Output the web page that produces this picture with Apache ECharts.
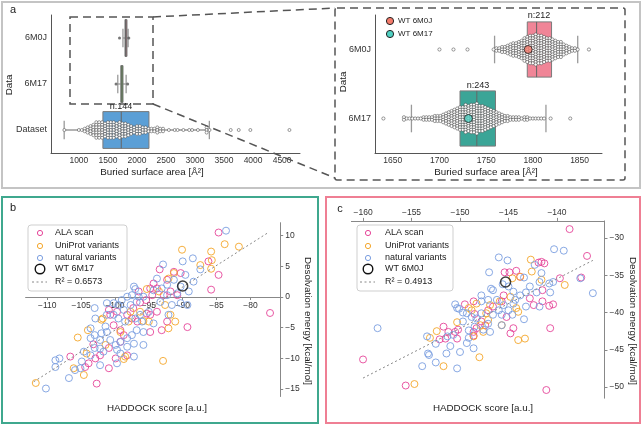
<!DOCTYPE html>
<html>
<head>
<meta charset="utf-8">
<script src="https://cdn.jsdelivr.net/npm/echarts@6/dist/echarts.min.js"></script>
<style>
html,body{margin:0;padding:0;background:#fff;}
#chart{width:642px;height:425px;}
</style>
</head>
<body>
<div id="chart"></div>
<script>
// ---------- panel a : buried surface area ----------
const boxCats = ['6M0J', '6M17', 'Dataset'];
// [q1, median, q3, whisker low, whisker high]
const boxStats = [
  [1794, 1804, 1820, 1759, 1848],
  [1722, 1740, 1760, 1670, 1814],
  [1414, 1730, 2207, 747, 3247]
];
const boxN = ['n:212', 'n:243', 'n:144'];
const wtValues = [1795, 1731];
const wtLabels = ['WT 6M0J', 'WT 6M17'];

// swarm points, read as bins (value) + how many dots stack in that bin
const sw6M0JBins = [1700, 1715, 1730, 1758, 1761, 1764, 1767, 1770, 1773, 1776, 1779, 1782, 1785, 1788, 1791, 1794, 1797, 1800, 1803, 1806, 1809, 1812, 1815, 1818, 1821, 1824, 1827, 1830, 1833, 1836, 1839, 1842, 1845, 1848, 1860];
const sw6M0JCounts = [1, 1, 1, 1, 2, 2, 3, 3, 4, 5, 6, 6, 7, 8, 10, 11, 12, 12, 13, 12, 12, 11, 10, 10, 9, 8, 7, 7, 5, 4, 3, 2, 2, 1, 1];
const sw6M17Bins = [1640, 1662, 1665, 1668, 1671, 1674, 1677, 1680, 1683, 1686, 1689, 1692, 1695, 1698, 1701, 1704, 1707, 1710, 1713, 1716, 1719, 1722, 1725, 1728, 1731, 1734, 1737, 1740, 1743, 1746, 1749, 1752, 1755, 1758, 1761, 1764, 1767, 1770, 1773, 1776, 1779, 1782, 1785, 1788, 1791, 1794, 1797, 1800, 1803, 1806, 1809, 1812, 1819, 1840];
const sw6M17Counts = [1, 2, 1, 1, 1, 1, 1, 1, 2, 2, 2, 2, 3, 3, 3, 4, 5, 6, 7, 8, 9, 10, 10, 12, 11, 12, 12, 13, 11, 11, 10, 9, 8, 7, 6, 5, 4, 3, 3, 2, 2, 2, 2, 1, 2, 2, 1, 1, 1, 1, 1, 1, 1, 1];
const swDataBins = [750, 1000, 1050, 1100, 1150, 1200, 1250, 1300, 1350, 1400, 1450, 1500, 1550, 1600, 1650, 1700, 1750, 1800, 1850, 1900, 1950, 2000, 2050, 2100, 2150, 2200, 2250, 2300, 2350, 2400, 2450, 2550, 2650, 2700, 2800, 2900, 2950, 3050, 3200, 3250, 3615, 3753, 3953, 4626];
const swDataCounts = [1, 1, 1, 2, 3, 4, 5, 7, 7, 7, 6, 7, 7, 7, 6, 7, 6, 6, 5, 4, 3, 4, 4, 3, 3, 2, 2, 2, 3, 2, 2, 1, 1, 1, 1, 1, 1, 1, 3, 1, 1, 1, 1, 1];
const leftOutliers = [[1700, 0], [1860, 0], [1640, 1], [1840, 1]];

const axTicksLeft = [1000, 1500, 2000, 2500, 3000, 3500, 4000, 4500];
const axTicksRight = [1650, 1700, 1750, 1800, 1850];

// ---------- panels b and c : HADDOCK vs desolvation ----------
const legendLabels = ['ALA scan', 'UniProt variants', 'natural variants'];
const bAla = [[-84.7,10.5],[-86.2,5.8],[-84.7,3.6],[-85.8,1.2],[-77.1,-2.6],[-89.3,-4.9],[-93.4,4.5],[-92.3,2.8],[-91.3,4.1],[-90.3,3.9],[-92.8,0.3],[-93.8,-2.4],[-95.3,-2.7],[-94.8,-2.9],[-92.3,-4.0],[-93.1,-5.4],[-94.8,-5.7],[-96.7,-4.0],[-97.5,-3.5],[-98.2,-2.9],[-99.7,-2.4],[-100.9,-2.1],[-100.7,-2.9],[-100.2,-4.6],[-98.7,-6.2],[-99.2,-7.3],[-100.9,-8.3],[-99.9,-10.0],[-100.9,-11.6],[-102.2,-9.5],[-102.9,-10.0],[-103.9,-10.8],[-104.4,-11.4],[-106.6,-9.7],[-102.7,-14.1],[-103.2,-7.7],[-98.2,-9.5],[-96.3,-0.9],[-95.4,-0.5],[-94.5,0.3],[-93.8,1.4],[-96.5,0.9],[-91.8,0.9],[-90.8,0.3],[-97.3,-1.8],[-99.2,-5.4],[-94.3,2.2],[-94.8,1.4]];
const bUni = [[-90.1,7.7],[-85.8,7.4],[-83.8,8.6],[-81.7,8.2],[-85.7,6.0],[-87.4,5.2],[-85.8,4.6],[-91.3,3.9],[-92.1,3.0],[-93.5,0.9],[-92.6,-1.3],[-91.8,-2.9],[-91.1,-4.0],[-92.1,-5.1],[-95.0,-4.0],[-95.8,-3.9],[-98.0,-4.0],[-97.7,-2.4],[-99.2,-5.7],[-98.5,-9.7],[-98.7,-10.1],[-101.8,-3.5],[-102.0,-3.7],[-104.0,-5.4],[-105.5,-6.6],[-104.2,-9.2],[-106.1,-11.6],[-104.6,-12.7],[-111.7,-14.0],[-92.9,-10.4],[-101.4,-7.8],[-96.3,-2.4],[-95.3,1.3]];
const bNat = [[-83.6,10.8],[-88.5,6.3],[-90.0,5.8],[-87.4,4.5],[-88.4,2.5],[-89.6,3.6],[-92.9,5.3],[-91.3,2.8],[-90.3,1.7],[-89.1,0.9],[-89.3,-1.3],[-91.6,-1.3],[-90.8,0.6],[-92.3,0.3],[-93.1,1.4],[-94.3,1.1],[-95.8,0.05],[-96.5,0.05],[-97.5,0.3],[-98.2,0.05],[-99.0,-0.5],[-99.5,-1.3],[-100.2,-1.0],[-101.2,-1.0],[-97.0,1.3],[-97.2,1.7],[-96.8,-0.8],[-97.7,-1.3],[-98.7,-2.1],[-96.3,-2.9],[-95.0,-2.4],[-94.3,-4.3],[-95.8,-5.7],[-96.8,-5.4],[-97.5,-6.2],[-98.2,-6.7],[-99.2,-7.3],[-99.9,-7.8],[-100.7,-7.0],[-101.2,-5.7],[-102.0,-5.9],[-102.2,-7.0],[-103.0,-8.3],[-102.2,-8.4],[-101.7,-8.9],[-99.7,-8.6],[-99.2,-9.2],[-98.2,-8.1],[-97.2,-7.6],[-95.8,-7.8],[-97.2,-9.7],[-99.7,-10.8],[-102.2,-11.1],[-103.0,-6.2],[-103.6,-5.1],[-102.9,-3.5],[-101.4,-4.8],[-104.6,-8.9],[-104.9,-10.5],[-105.9,-11.9],[-105.1,-11.6],[-106.8,-13.2],[-108.2,-10.0],[-108.8,-10.3],[-108.8,-11.4],[-110.2,-14.9],[-103.6,-9.5],[-103.0,-1.8],[-101.2,-2.9],[-103.6,-6.7],[-99.5,-3.5],[-98.5,-4.0],[-97.0,-3.5],[-100.2,-2.9],[-93.3,-0.8],[-93.8,3.0],[-92.3,2.0],[-92.1,-2.9],[-96.0,-4.0],[-90.3,-1.0]];
const bWT = [[-90.0, 1.8]];
const bFit = [[-112.0, -13.8], [-77.5, 10.4]];
const bTicksX = [-110, -105, -100, -95, -90, -85, -80];
const bTicksY = [-15, -10, -5, 0, 5, 10];

const cAla = [[-138.7,-28.8],[-136.9,-32.4],[-137.5,-35.3],[-139.7,-35.4],[-140.7,-42.1],[-141.1,-50.4],[-140.4,-38.9],[-140.8,-39.1],[-141.6,-33.2],[-141.3,-33.4],[-141.9,-33.3],[-141.5,-37.0],[-141.5,-38.5],[-142.4,-39.0],[-142.8,-38.1],[-143.8,-35.2],[-144.2,-34.4],[-144.9,-34.6],[-145.4,-34.6],[-145.5,-37.7],[-145.7,-38.5],[-146.6,-39.2],[-145.2,-40.6],[-144.8,-42.8],[-147.1,-39.7],[-147.8,-41.2],[-147.4,-41.7],[-148.3,-42.1],[-148.5,-40.2],[-149.5,-38.9],[-148.6,-42.6],[-148.6,-43.1],[-150.2,-42.3],[-150.5,-42.6],[-150.3,-43.5],[-151.7,-41.9],[-151.2,-42.6],[-151.5,-43.5],[-152.1,-43.6],[-148.6,-38.5],[-155.6,-49.8],[-160.0,-46.3],[-144.5,-42.1]];
const cUni = [[-142.7,-32.9],[-142.6,-34.5],[-141.6,-35.6],[-139.2,-36.3],[-143.8,-35.2],[-144.6,-35.4],[-144.8,-37.9],[-144.2,-39.4],[-144.0,-39.9],[-143.3,-43.5],[-144.0,-43.7],[-145.7,-41.7],[-147.3,-40.1],[-147.1,-41.0],[-147.6,-42.6],[-146.9,-39.0],[-148.3,-38.8],[-149.1,-39.4],[-148.8,-39.7],[-148.6,-43.2],[-148.0,-46.0],[-147.9,-41.7],[-150.3,-41.3],[-152.4,-42.5],[-153.1,-43.4],[-151.7,-47.2],[-154.7,-49.6],[-145.9,-38.5]];
const cNat = [[-140.3,-31.5],[-139.3,-31.7],[-137.6,-35.4],[-136.3,-37.4],[-140.4,-35.9],[-140.8,-36.1],[-140.7,-37.3],[-141.8,-35.9],[-141.6,-34.7],[-142.3,-33.6],[-143.4,-35.3],[-142.8,-36.5],[-143.2,-37.3],[-142.1,-37.3],[-141.8,-39.2],[-143.2,-39.2],[-143.8,-37.7],[-144.5,-37.2],[-145.0,-36.5],[-145.6,-36.2],[-145.1,-33.0],[-146.0,-32.6],[-147.0,-34.6],[-146.6,-37.0],[-146.2,-38.3],[-145.5,-39.0],[-145.0,-39.7],[-144.6,-40.3],[-143.4,-40.9],[-144.3,-38.3],[-145.7,-40.3],[-146.0,-39.7],[-146.6,-40.3],[-147.1,-38.3],[-147.8,-37.7],[-146.8,-36.8],[-147.8,-38.5],[-147.8,-40.1],[-148.3,-40.8],[-147.1,-41.5],[-146.9,-42.6],[-145.7,-41.7],[-147.6,-42.3],[-148.5,-41.9],[-148.8,-40.6],[-149.3,-40.1],[-149.7,-40.0],[-150.1,-39.5],[-150.3,-39.4],[-149.7,-41.2],[-149.1,-43.4],[-149.3,-44.1],[-148.6,-44.8],[-149.1,-42.4],[-150.7,-43.0],[-151.0,-44.5],[-150.0,-45.3],[-150.3,-47.5],[-151.4,-45.5],[-152.5,-44.2],[-153.4,-43.2],[-153.3,-45.5],[-153.2,-45.7],[-152.5,-46.7],[-153.9,-47.2],[-158.5,-42.1],[-151.3,-43.2],[-150.5,-38.9],[-144.5,-38.8]];
const cWT = [[-145.3, -35.9]];
const cFit = [[-160.0, -48.8], [-136.3, -33.0]];
const cTicksX = [-160, -155, -150, -145, -140];
const cTicksY = [-50, -45, -40, -35, -30];

const FONT = '"Liberation Sans", Arial, sans-serif';
const colAla = '#e6479a', colUni = '#f4a62a', colNat = '#7b9ee0';
const boxColorsRight = ['#f08597', '#3ba597'];
const boxColorsLeft = ['#8a6569', '#5c9148', '#5b9fd6'];
const wtColors = ['#f57b6b', '#4fd0c2'];

function minus(v) { return v < 0 ? '\u2212' + Math.abs(v) : String(v); }
function plain(v) { return String(v); }

function swarmPoints(bins, counts, cat) {
  const out = [];
  bins.forEach((v, i) => {
    const n = counts[i];
    for (let j = 0; j < n; j++) out.push([v, cat, j - (n - 1) / 2]);
  });
  return out;
}

function boxRender(colors) {
  return function (params, api) {
    const c = api.value(0);
    const pq1 = api.coord([api.value(1), c]);
    const pmd = api.coord([api.value(2), c]);
    const pq3 = api.coord([api.value(3), c]);
    const plo = api.coord([api.value(4), c]);
    const phi = api.coord([api.value(5), c]);
    const h = Math.abs(api.coord([api.value(1), c + 0.4])[1] - pq1[1]);
    const y = pq1[1];
    const w = Math.max(pq3[0] - pq1[0], 2);
    const wl = { stroke: '#9a9a9a', lineWidth: 1.3 };
    return {
      type: 'group',
      children: [
        { type: 'line', shape: { x1: plo[0], y1: y, x2: pq1[0], y2: y }, style: wl },
        { type: 'line', shape: { x1: pq3[0], y1: y, x2: phi[0], y2: y }, style: wl },
        { type: 'line', shape: { x1: plo[0], y1: y - h / 2, x2: plo[0], y2: y + h / 2 }, style: wl },
        { type: 'line', shape: { x1: phi[0], y1: y - h / 2, x2: phi[0], y2: y + h / 2 }, style: wl },
        { type: 'rect', shape: { x: pq1[0], y: y - h, width: w, height: 2 * h }, style: { fill: colors[c], stroke: '#7a7a7a', lineWidth: 1 } },
        { type: 'line', shape: { x1: pmd[0], y1: y - h, x2: pmd[0], y2: y + h }, style: { stroke: '#666', lineWidth: 1 } }
      ]
    };
  };
}

function swarmRender(step, r) {
  return function (params, api) {
    const p = api.coord([api.value(0), api.value(1)]);
    return { type: 'circle', shape: { cx: p[0], cy: p[1] + api.value(2) * step, r: r }, style: { fill: '#fff', stroke: '#555', lineWidth: 0.6 } };
  };
}

const boxRows = boxStats.map((s, i) => [i].concat(s));
const swRight = swarmPoints(sw6M0JBins, sw6M0JCounts, 0).concat(swarmPoints(sw6M17Bins, sw6M17Counts, 1));
const swLeft = swarmPoints(swDataBins, swDataCounts, 2);

const catLabel = { show: true, fontFamily: FONT, fontSize: 9, color: '#333', margin: 4, formatter: v => boxCats[v] };
const numLabel = { fontFamily: FONT, fontSize: 8.5, color: '#333' };

function txt(x, y, s, size, extra) {
  return Object.assign({ type: 'text', x: x, y: y, z: 100,
    style: { text: s, font: size + 'px ' + FONT, fill: '#222', align: 'center', verticalAlign: 'middle' } }, extra || {});
}
function ltxt(x, y, s, size) {
  return { type: 'text', x: x, y: y, z: 100,
    style: { text: s, font: size + 'px ' + FONT, fill: '#222', align: 'left', verticalAlign: 'middle' } };
}

function scatterLegend(x0, y0, w, mx, tx, wtName, r2Text) {
  const rows = [8, 21, 33, 44, 57];
  const cols = [colAla, colUni, colNat];
  const els = [{ type: 'rect', z: 90, shape: { x: x0, y: y0, width: w, height: 66, r: 3 }, style: { fill: 'rgba(255,255,255,0.85)', stroke: '#cfcfcf', lineWidth: 1 } }];
  legendLabels.forEach((l, i) => {
    els.push({ type: 'circle', z: 100, shape: { cx: mx, cy: y0 + rows[i], r: 2.6 }, style: { fill: 'none', stroke: cols[i], lineWidth: 1 } });
    els.push(ltxt(tx, y0 + rows[i], l, 9));
  });
  els.push({ type: 'circle', z: 100, shape: { cx: mx, cy: y0 + rows[3], r: 4.8 }, style: { fill: 'none', stroke: '#111', lineWidth: 1.4 } });
  els.push(ltxt(tx, y0 + rows[3], wtName, 9));
  els.push({ type: 'line', z: 100, shape: { x1: mx - 8, y1: y0 + rows[4], x2: mx + 7, y2: y0 + rows[4] }, style: { stroke: '#888', lineWidth: 1, lineDash: [2, 2.5] } });
  els.push(ltxt(tx, y0 + rows[4], r2Text, 9));
  return els;
}

const hollow = (c) => ({ color: 'rgba(0,0,0,0)', borderColor: c, borderWidth: 1, opacity: 0.9 });

// b: grid bottom sits at 396.5, value 0 sits at 297 -> move the x axis up to zero
const bGrid = { left: 25.6, top: 222.7, width: 254.6, height: 173.8 };
const bYMin = -16.2, bYMax = 12.1;
const bZeroOffset = -(bGrid.height * (0 - bYMin) / (bYMax - bYMin));

const option = {
  animation: false,
  backgroundColor: '#fff',
  grid: [
    { left: 51, top: 15, width: 249, height: 138 },
    { left: 375, top: 15, width: 227, height: 138 },
    bGrid,
    { left: 351.4, top: 220.9, width: 253.1, height: 177.3 }
  ],
  xAxis: [
    { gridIndex: 0, type: 'value', min: 520, max: 4808, splitLine: { show: false },
      axisLine: { onZero: false, lineStyle: { color: '#555' } }, axisTick: { show: false },
      axisLabel: Object.assign({ customValues: axTicksLeft, margin: 3, formatter: plain }, numLabel) },
    { gridIndex: 1, type: 'value', min: 1631, max: 1874, splitLine: { show: false },
      axisLine: { onZero: false, lineStyle: { color: '#555' } }, axisTick: { show: false },
      axisLabel: Object.assign({ customValues: axTicksRight, margin: 3, formatter: plain }, numLabel) },
    { gridIndex: 2, type: 'value', min: -113.2, max: -75.6, offset: bZeroOffset, splitLine: { show: false },
      axisLine: { onZero: false, lineStyle: { color: '#888' } },
      axisTick: { customValues: bTicksX, length: 3, lineStyle: { color: '#888' } },
      axisLabel: Object.assign({ customValues: bTicksX, margin: 4, formatter: minus }, numLabel) },
    { gridIndex: 3, type: 'value', position: 'top', min: -161.2, max: -135.1, splitLine: { show: false },
      axisLine: { onZero: false, lineStyle: { color: '#888' } },
      axisTick: { customValues: cTicksX, length: 3, lineStyle: { color: '#888' } },
      axisLabel: Object.assign({ customValues: cTicksX, margin: 4, formatter: minus }, numLabel) }
  ],
  yAxis: [
    { gridIndex: 0, type: 'value', min: -0.5, max: 2.5, inverse: true, splitLine: { show: false },
      axisLine: { onZero: false, lineStyle: { color: '#555' } }, axisTick: { show: false },
      axisLabel: Object.assign({ customValues: [0, 1, 2] }, catLabel) },
    { gridIndex: 1, type: 'value', min: -0.5, max: 1.5, inverse: true, splitLine: { show: false },
      axisLine: { onZero: false, lineStyle: { color: '#555' } }, axisTick: { show: false },
      axisLabel: Object.assign({ customValues: [0, 1] }, catLabel) },
    { gridIndex: 2, type: 'value', position: 'right', min: bYMin, max: bYMax, splitLine: { show: false },
      axisLine: { onZero: false, lineStyle: { color: '#888' } },
      axisTick: { customValues: bTicksY, length: 3, lineStyle: { color: '#888' } },
      axisLabel: Object.assign({ customValues: bTicksY, margin: 5, formatter: minus }, numLabel) },
    { gridIndex: 3, type: 'value', position: 'right', min: -51.5, max: -27.7, splitLine: { show: false },
      axisLine: { onZero: false, lineStyle: { color: '#888' } },
      axisTick: { customValues: cTicksY, length: 3, lineStyle: { color: '#888' } },
      axisLabel: Object.assign({ customValues: cTicksY, margin: 5, formatter: minus }, numLabel) }
  ],
  series: [
    // panel a, left
    { type: 'custom', xAxisIndex: 0, yAxisIndex: 0, renderItem: boxRender(boxColorsLeft), data: boxRows, encode: { x: [1, 3], y: 0 }, z: 2 },
    { type: 'scatter', xAxisIndex: 0, yAxisIndex: 0, data: leftOutliers, symbolSize: 3, itemStyle: { color: '#555' }, z: 3 },
    { type: 'custom', xAxisIndex: 0, yAxisIndex: 0, renderItem: swarmRender(2.6, 1.5), data: swLeft, encode: { x: 0, y: 1 }, z: 4 },
    // panel a, right
    { type: 'custom', xAxisIndex: 1, yAxisIndex: 1, renderItem: boxRender(boxColorsRight), data: boxRows.slice(0, 2), encode: { x: [1, 3], y: 0 }, z: 2 },
    { type: 'custom', xAxisIndex: 1, yAxisIndex: 1, renderItem: swarmRender(2.5, 1.6), data: swRight, encode: { x: 0, y: 1 }, z: 4 },
    { type: 'scatter', xAxisIndex: 1, yAxisIndex: 1, symbolSize: 8, z: 6,
      data: wtValues.map((v, i) => ({ value: [v, i], itemStyle: { color: wtColors[i], borderColor: '#222', borderWidth: 1 } })) },
    // panel b
    { name: legendLabels[0], type: 'scatter', xAxisIndex: 2, yAxisIndex: 2, data: bAla, symbolSize: 7, itemStyle: hollow(colAla) },
    { name: legendLabels[1], type: 'scatter', xAxisIndex: 2, yAxisIndex: 2, data: bUni, symbolSize: 7, itemStyle: hollow(colUni) },
    { name: legendLabels[2], type: 'scatter', xAxisIndex: 2, yAxisIndex: 2, data: bNat, symbolSize: 7, itemStyle: hollow(colNat) },
    { type: 'line', xAxisIndex: 2, yAxisIndex: 2, data: bFit, symbol: 'none', lineStyle: { color: '#888', width: 1, type: [2, 2.5] }, z: 5 },
    { type: 'scatter', xAxisIndex: 2, yAxisIndex: 2, data: bWT, symbolSize: 10, itemStyle: { color: 'rgba(0,0,0,0)', borderColor: '#111', borderWidth: 1.5 }, z: 6 },
    // panel c
    { name: legendLabels[0], type: 'scatter', xAxisIndex: 3, yAxisIndex: 3, data: cAla, symbolSize: 7, itemStyle: hollow(colAla) },
    { name: legendLabels[1], type: 'scatter', xAxisIndex: 3, yAxisIndex: 3, data: cUni, symbolSize: 7, itemStyle: hollow(colUni) },
    { name: legendLabels[2], type: 'scatter', xAxisIndex: 3, yAxisIndex: 3, data: cNat, symbolSize: 7, itemStyle: hollow(colNat) },
    { type: 'line', xAxisIndex: 3, yAxisIndex: 3, data: cFit, symbol: 'none', lineStyle: { color: '#888', width: 1, type: [2, 2.5] }, z: 5 },
    { type: 'scatter', xAxisIndex: 3, yAxisIndex: 3, data: cWT, symbolSize: 10, itemStyle: { color: 'rgba(0,0,0,0)', borderColor: '#111', borderWidth: 1.5 }, z: 6 }
  ],
  graphic: [].concat(
    [
      // panel frames
      { type: 'rect', z: 1, shape: { x: 2, y: 2, width: 638, height: 186 }, style: { fill: 'none', stroke: '#c4c4c4', lineWidth: 2 } },
      { type: 'rect', z: 1, shape: { x: 2, y: 197, width: 316, height: 226 }, style: { fill: 'none', stroke: '#3fa88e', lineWidth: 2 } },
      { type: 'rect', z: 1, shape: { x: 326, y: 197, width: 314, height: 226 }, style: { fill: 'none', stroke: '#ef7f94', lineWidth: 2 } },
      // zoom boxes
      { type: 'rect', z: 50, shape: { x: 70, y: 17, width: 83, height: 87 }, style: { fill: 'none', stroke: '#555', lineWidth: 1.5, lineDash: [8, 5] } },
      { type: 'rect', z: 50, shape: { x: 335, y: 8, width: 290, height: 172, r: 2 }, style: { fill: 'none', stroke: '#555', lineWidth: 1.5, lineDash: [8, 5] } },
      { type: 'line', z: 50, shape: { x1: 153, y1: 17, x2: 335, y2: 8 }, style: { stroke: '#555', lineWidth: 1.5, lineDash: [8, 5] } },
      { type: 'line', z: 50, shape: { x1: 153, y1: 104, x2: 335, y2: 178 }, style: { stroke: '#555', lineWidth: 1.5, lineDash: [8, 5] } },
      // letters
      txt(13, 10, 'a', 11), txt(13, 208, 'b', 11), txt(340, 209, 'c', 11),
      // axis titles
      txt(152, 172, 'Buried surface area [\u00c5\u00b2]', 9.8),
      txt(486, 172, 'Buried surface area [\u00c5\u00b2]', 9.8),
      txt(9, 85, 'Data', 9.8, { rotation: Math.PI / 2 }),
      txt(343, 82, 'Data', 9.8, { rotation: Math.PI / 2 }),
      txt(157, 408, 'HADDOCK score [a.u.]', 9.8),
      txt(483, 408, 'HADDOCK score [a.u.]', 9.8),
      txt(308, 321, 'Desolvation energy [kcal/mol]', 9.8, { rotation: -Math.PI / 2 }),
      txt(633, 321, 'Desolvation energy [kcal/mol]', 9.8, { rotation: -Math.PI / 2 }),
      // counts above boxes
      txt(539, 16, boxN[0], 9), txt(478, 86, boxN[1], 9), txt(121, 107, boxN[2], 9)
    ],
    // WT legend in panel a
    wtLabels.reduce((acc, l, i) => acc.concat([
      { type: 'circle', z: 100, shape: { cx: 390, cy: 21 + i * 13, r: 3.6 }, style: { fill: wtColors[i], stroke: '#222', lineWidth: 1 } },
      ltxt(398, 21 + i * 13, l, 8)
    ]), []),
    scatterLegend(28, 225, 99, 40, 55, 'WT 6M17', 'R\u00b2 = 0.6573'),
    scatterLegend(357, 225, 96, 368, 385, 'WT 6M0J', 'R\u00b2 = 0.4913')
  )
};

const chart = echarts.init(document.getElementById('chart'));
chart.setOption(option);
</script>
</body>
</html>
